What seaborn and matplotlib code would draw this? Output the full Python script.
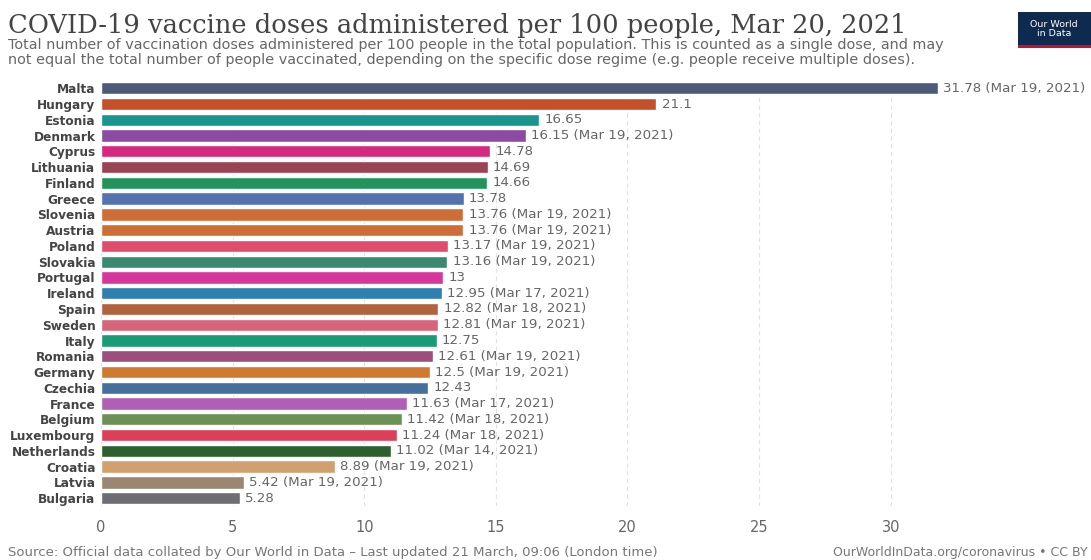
import matplotlib
matplotlib.use("Agg")
import matplotlib.pyplot as plt
import seaborn as sns
import pandas as pd
from matplotlib.patches import Rectangle

# Data
countries = ["Malta", "Hungary", "Estonia", "Denmark", "Cyprus", "Lithuania", "Finland",
             "Greece", "Slovenia", "Austria", "Poland", "Slovakia", "Portugal", "Ireland",
             "Spain", "Sweden", "Italy", "Romania", "Germany", "Czechia", "France",
             "Belgium", "Luxembourg", "Netherlands", "Croatia", "Latvia", "Bulgaria"]
doses = [31.78, 21.1, 16.65, 16.15, 14.78, 14.69, 14.66, 13.78, 13.76, 13.76, 13.17,
         13.16, 13, 12.95, 12.82, 12.81, 12.75, 12.61, 12.5, 12.43, 11.63, 11.42,
         11.24, 11.02, 8.89, 5.42, 5.28]
dates = ["Mar 19, 2021", "", "", "Mar 19, 2021", "", "", "", "", "Mar 19, 2021",
         "Mar 19, 2021", "Mar 19, 2021", "Mar 19, 2021", "", "Mar 17, 2021",
         "Mar 18, 2021", "Mar 19, 2021", "", "Mar 19, 2021", "Mar 19, 2021", "",
         "Mar 17, 2021", "Mar 18, 2021", "Mar 18, 2021", "Mar 14, 2021",
         "Mar 19, 2021", "Mar 19, 2021", ""]
colors = ["#4c5b78", "#c4502a", "#18958f", "#8c4ba2", "#d6287f", "#9a4352", "#22935a",
          "#5473ae", "#cf6d36", "#cf6d36", "#e04c6c", "#3a8a72", "#d6379c", "#2f80b2",
          "#b0633d", "#d6657a", "#1b9a78", "#9c4e7c", "#cf7a2e", "#46709c", "#b05fb4",
          "#6c9055", "#dc3f58", "#2d5f2f", "#d2a06e", "#9a8672", "#6d6d72"]

df = pd.DataFrame({"country": countries, "doses": doses})

sns.set_style("white")
plt.rcParams["font.family"] = ["DejaVu Sans"]

fig = plt.figure(figsize=(10.91, 5.6), dpi=100)
ax = fig.add_axes([0.0926, 0.0964, 0.83, 0.76])

sns.barplot(data=df, x="doses", y="country", hue="country", palette=colors,
            saturation=1, dodge=False, legend=False, width=0.78, orient="h", ax=ax)

ax.set_xlim(0, 34.4)
ax.set_ylim(len(countries) - 0.5, -0.5)
ax.set_xticks([0, 5, 10, 15, 20, 25, 30])
ax.tick_params(axis="x", length=0, labelsize=10.5, labelcolor="#666666", pad=10)
ax.tick_params(axis="y", length=0, labelsize=8.7, labelcolor="#444444", pad=4)
for lbl in ax.get_yticklabels():
    lbl.set_fontweight("bold")
ax.set_xlabel("")
ax.set_ylabel("")
for s in ax.spines.values():
    s.set_visible(False)
ax.grid(axis="x", color="#e2e2e2", linestyle=(0, (4, 3)), linewidth=0.8)
ax.set_axisbelow(True)

for i, (v, d) in enumerate(zip(doses, dates)):
    txt = f"{v:g}" + (f" ({d})" if d else "")
    ax.text(v + 0.2, i, txt, va="center", ha="left", fontsize=9.6,
            color="#666666", clip_on=False)

# Title and subtitle
fig.text(0.007, 0.955, "COVID-19 vaccine doses administered per 100 people, Mar 20, 2021",
         fontsize=18.5, family=["DejaVu Serif"], color="#444444",
         ha="left", va="center")
fig.text(0.007, 0.906,
         "Total number of vaccination doses administered per 100 people in the total population. "
         "This is counted as a single dose, and may\nnot equal the total number of people vaccinated, "
         "depending on the specific dose regime (e.g. people receive multiple doses).",
         fontsize=10.4, color="#666666", ha="left", va="center", linespacing=1.1)

# Logo
fig.patches.append(Rectangle((0.933, 0.918), 0.067, 0.06, transform=fig.transFigure,
                             facecolor="#0f2a4f", edgecolor="none"))
fig.patches.append(Rectangle((0.933, 0.914), 0.067, 0.006, transform=fig.transFigure,
                             facecolor="#c8102e", edgecolor="none"))
fig.text(0.966, 0.949, "Our World\nin Data", fontsize=6.8, color="white",
         ha="center", va="center", linespacing=1.0)

# Footer
fig.text(0.007, 0.014,
         "Source: Official data collated by Our World in Data – Last updated 21 March, 09:06 (London time)",
         fontsize=9.5, color="#777777", ha="left", va="center")
fig.text(0.997, 0.014, "OurWorldInData.org/coronavirus • CC BY",
         fontsize=9.0, color="#777777", ha="right", va="center")

fig.savefig("out.png", dpi=100, facecolor="white")
